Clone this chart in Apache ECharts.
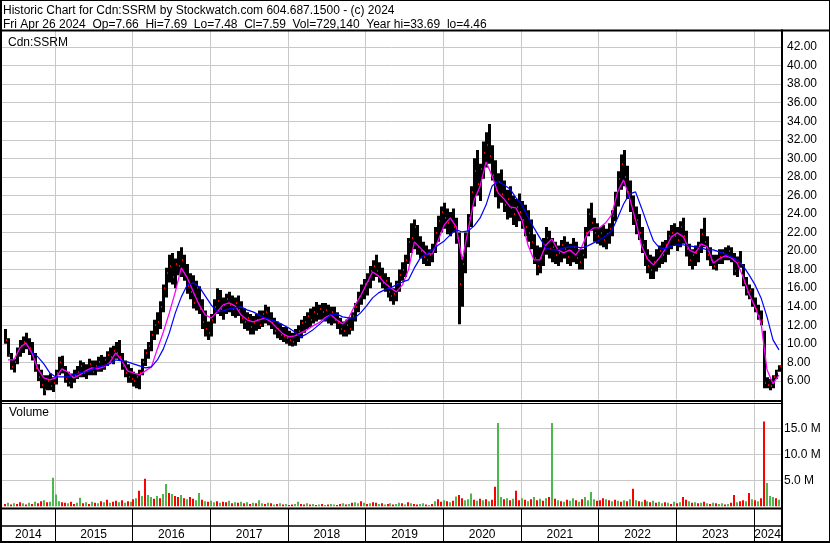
<!DOCTYPE html>
<html><head><meta charset="utf-8">
<script src="https://cdn.jsdelivr.net/npm/echarts@6/dist/echarts.min.js"></script>
<style>html,body{margin:0;padding:0;background:#fff}#c{width:830px;height:543px}</style>
</head><body><div id="c"></div>
<script>
// ---- data ----
const years = [2014,2015,2016,2017,2018,2019,2020,2021,2022,2023,2024];
const priceTicks = [6,8,10,12,14,16,18,20,22,24,26,28,30,32,34,36,38,40,42];
const volTicks = [5,10,15];
const lastDate = 2024.32;      // Fri Apr 26 2024 as decimal year
const barsPerYear = 26;        // two-week bars
const xMin = 2014.32, xMax = 2024.346;

const high = [
11.6,10.6,9.0,8.4,9.6,10.4,10.8,11.2,10.6,10.2,
9.0,7.8,7.2,6.6,6.6,6.8,6.4,7.2,8.6,8.7,
7.6,7.0,6.8,7.2,7.6,8.2,8.0,7.8,8.4,8.2,
8.2,8.6,8.8,8.6,9.2,9.6,9.8,10.2,10.4,9.0,
8.2,7.8,7.4,7.0,6.8,7.2,8.4,9.4,10.2,11.4,
12.6,13.4,14.6,16.4,18.2,19.6,19.8,19.2,20.0,20.4,
19.6,18.6,17.6,17.4,16.8,16.2,14.8,13.6,12.4,13.2,
14.8,16.0,15.8,15.0,15.4,15.6,15.2,15.0,15.2,14.6,
13.8,13.4,13.2,13.0,13.2,13.6,13.6,14.2,14.0,13.4,
12.8,12.4,12.2,11.8,11.8,11.4,11.2,11.6,12.0,12.6,
13.0,13.4,13.8,14.0,14.5,14.2,14.4,14.4,14.2,14.0,
14.0,13.4,12.8,12.4,12.6,12.8,13.4,14.4,15.6,16.4,
17.0,17.6,18.4,19.0,19.6,18.8,18.2,17.6,17.2,16.6,
16.0,16.8,18.0,18.8,19.6,21.4,23.0,23.4,22.8,21.6,
21.0,20.6,20.2,20.8,22.6,23.8,24.8,25.2,24.6,24.2,
24.6,23.6,22.0,19.4,22.0,24.0,27.0,30.0,30.9,29.4,
31.8,32.8,33.69,31.4,29.8,28.4,28.8,27.6,26.6,27.0,
26.0,25.6,26.2,25.4,25.0,24.4,23.4,21.8,20.6,20.4,
21.4,22.6,22.2,21.4,21.0,20.6,21.2,21.6,21.0,20.8,
21.4,21.0,20.2,20.2,22.6,24.6,25.2,23.6,23.0,22.6,
22.8,22.4,23.0,24.4,26.4,28.6,30.4,30.9,29.2,27.6,
26.0,24.8,24.0,22.6,21.2,20.2,19.6,19.4,20.2,20.6,
21.0,21.2,22.2,22.8,23.0,22.6,23.2,23.6,22.2,20.8,
20.2,20.6,21.0,22.4,23.6,21.6,20.4,19.6,19.6,20.2,
20.2,20.4,20.6,20.4,19.8,19.4,20.0,18.6,17.2,16.4,
16.0,15.0,14.2,13.6,11.4,6.4,6.2,6.6,7.2,7.69];

const low = [
10.0,8.6,7.2,6.9,7.8,8.6,9.0,9.4,8.8,8.2,
7.0,6.0,5.2,4.46,5.0,5.0,4.8,5.6,6.6,6.8,
5.8,5.4,5.2,5.8,6.2,6.4,6.4,6.2,6.6,6.6,
6.6,7.0,7.0,7.2,7.6,8.0,7.8,8.4,8.2,7.2,
6.4,5.8,5.8,5.4,5.2,5.1,6.6,7.6,8.4,9.2,
10.4,11.0,11.6,13.4,15.0,16.6,16.4,16.0,17.4,17.2,
16.8,15.4,14.8,13.8,13.6,13.2,11.6,10.8,10.4,10.8,
12.2,13.2,13.0,12.6,13.2,13.4,13.0,12.8,13.0,12.2,
11.6,11.4,11.0,11.0,11.4,11.6,11.8,12.2,12.0,11.6,
11.0,10.6,10.4,10.2,10.0,9.8,9.7,9.8,10.2,10.6,
11.2,11.6,11.8,12.2,12.4,12.6,12.6,12.4,12.2,12.0,
12.2,11.6,11.0,10.8,10.8,11.0,11.4,12.4,13.4,14.2,
14.8,15.2,16.0,16.8,17.2,16.6,16.0,15.6,15.0,14.6,
14.2,14.6,15.6,16.8,17.2,18.6,19.8,20.2,19.6,19.2,
18.6,18.4,18.4,18.8,19.8,21.0,22.0,22.4,21.8,21.6,
22.0,20.8,12.1,14.0,17.6,20.4,22.6,24.8,26.0,25.4,
27.8,29.0,29.4,27.6,25.8,24.6,25.2,24.2,23.4,23.6,
22.8,22.6,23.2,22.4,21.6,21.0,20.2,18.6,17.4,17.6,
18.4,19.6,19.2,18.8,18.6,18.4,18.8,19.2,18.6,18.4,
18.8,18.6,18.0,18.0,19.2,21.6,22.2,21.0,20.8,20.6,
20.4,20.2,20.8,21.6,23.2,24.8,26.6,27.0,25.6,24.2,
22.8,21.8,21.2,19.8,18.4,17.6,17.0,17.0,17.8,18.2,
18.6,18.8,19.6,20.2,20.6,20.0,20.4,20.8,19.4,18.4,
18.0,18.4,18.8,19.8,20.4,19.0,18.4,18.0,17.9,18.6,
18.6,19.0,19.0,18.8,17.4,17.2,18.2,16.2,15.2,14.8,
14.0,13.4,12.6,12.0,5.2,5.2,5.0,5.2,6.2,7.0];

const close = [
10.4,8.8,7.5,8.0,9.2,9.8,10.2,9.8,9.6,8.6,
7.4,6.4,5.6,5.0,6.0,5.4,5.8,6.8,8.0,7.2,
6.2,5.8,6.4,6.6,7.0,7.6,6.8,7.2,7.8,7.0,
7.6,8.0,7.6,8.2,8.8,8.6,9.2,9.0,8.6,7.6,
6.8,6.4,6.2,6.0,6.4,6.8,8.0,9.0,9.8,11.0,
12.0,12.4,14.0,16.0,17.6,18.4,17.2,18.6,18.4,19.0,
17.4,16.2,15.6,14.4,16.0,13.8,12.4,11.6,11.2,12.6,
14.0,14.6,13.8,14.2,14.8,14.2,13.8,14.4,13.6,12.8,
12.4,12.8,11.8,12.2,12.6,12.0,13.2,13.4,12.6,12.2,
11.4,11.6,11.0,10.8,10.6,10.4,10.2,11.0,11.4,12.2,
12.4,13.0,12.6,13.4,13.2,13.8,13.4,13.6,13.0,13.4,
12.6,12.2,11.6,11.4,12.0,11.6,13.0,14.0,15.0,15.6,
16.4,16.8,17.8,18.4,17.8,17.2,16.6,16.8,15.6,15.2,
15.4,16.4,17.4,18.0,19.0,21.0,21.4,22.6,20.4,20.0,
19.4,19.0,19.6,20.2,22.0,23.2,24.2,23.6,23.0,23.4,
22.6,21.4,16.4,18.6,21.4,23.6,26.4,28.6,27.2,28.8,
30.6,31.4,30.2,28.2,26.6,27.4,26.2,25.0,25.6,24.6,
24.0,24.8,24.2,23.4,22.6,22.0,21.0,19.2,18.4,19.2,
20.6,21.4,20.2,20.4,19.6,19.8,20.6,20.2,19.4,20.0,
20.4,19.2,18.8,19.6,22.0,24.0,23.0,22.0,21.6,22.0,
21.2,21.8,22.4,23.8,25.8,27.8,29.4,28.0,26.4,25.0,
23.6,23.4,22.0,20.6,19.2,18.4,18.0,18.8,19.0,20.0,
19.6,20.6,21.6,22.0,21.6,21.2,22.6,21.6,20.2,19.0,
19.6,19.8,20.6,21.8,21.0,19.6,19.0,18.4,19.0,19.4,
19.8,19.6,20.0,19.2,17.8,18.8,18.6,16.6,15.6,15.8,
14.4,13.8,13.0,12.6,5.8,5.6,5.4,6.4,7.0,7.59];

// volume in millions
const volume = [
0.5,0.7,0.4,0.6,0.5,0.8,0.6,0.4,0.7,0.5,
0.9,0.6,1.0,1.2,0.8,0.9,5.5,2.3,1.0,0.8,
0.7,0.6,0.9,0.5,0.7,1.7,0.6,0.8,0.5,0.9,
0.7,0.6,1.0,0.8,1.3,0.7,0.9,1.1,0.8,1.2,
0.7,1.0,0.9,1.4,1.6,3.0,2.0,5.3,2.2,1.8,
1.5,2.0,1.6,2.4,4.3,2.6,2.4,2.0,1.8,2.2,
1.6,1.4,1.8,1.5,1.2,2.6,1.3,1.0,0.9,1.1,
0.8,1.0,0.7,0.9,0.8,1.1,0.6,0.8,0.7,0.9,
0.6,0.8,0.5,0.7,0.6,1.2,0.6,0.5,0.7,0.6,
0.4,0.5,0.6,0.4,0.5,0.3,0.4,0.5,0.9,0.5,
0.4,0.6,0.4,0.5,0.3,0.4,0.5,0.3,0.4,0.5,
0.4,0.3,0.5,0.6,0.4,0.5,0.7,0.8,0.6,1.0,
0.7,0.5,0.6,0.8,0.7,0.5,0.6,0.4,0.5,0.6,
0.4,0.5,0.7,0.6,0.4,0.8,0.6,0.5,0.4,0.5,
0.6,0.4,0.3,0.5,1.0,1.4,0.9,1.2,1.0,0.8,
1.1,1.9,2.2,1.6,1.2,1.4,2.5,1.3,1.1,1.5,
1.2,1.4,1.0,1.3,3.8,16.0,1.8,1.4,1.6,1.2,
1.5,3.0,1.2,1.6,1.3,1.0,1.4,1.8,1.2,1.5,
1.1,1.6,1.8,16.0,1.5,1.2,1.0,0.9,1.3,1.1,
1.6,1.2,0.9,1.4,1.8,1.2,2.8,1.4,1.1,1.2,
1.6,1.4,1.2,1.0,1.3,1.1,0.9,1.2,1.0,1.4,
3.4,1.2,1.0,0.9,1.3,1.0,0.8,1.1,0.7,0.9,
0.6,0.8,0.7,0.5,0.9,0.6,0.8,1.8,1.3,1.0,
0.7,0.8,0.6,0.7,0.9,0.6,0.5,0.7,0.6,0.5,
0.6,0.4,0.5,0.7,2.2,0.8,1.0,1.2,1.0,2.6,
1.4,1.2,1.0,1.6,16.3,4.5,2.0,1.8,1.6,1.3];

// g = up (green), r = down (red)
const volDir =
"rgrgrrgrgr"+"grrgrggggr"+"rgrrggrgrg"+"rgrgrgrrgr"+"grgrgrgrgg"+
"rgrggrgrrg"+"rgrrggrgrg"+"grgrrgrgrg"+"rgrgrggrgr"+"grgrgrrggr"+
"rgrgrgrgrg"+"grrgrgrggr"+"grgrrgrgrg"+"rggrgrgrrg"+"grgrgrrgrg"+
"rgrrgggrgr"+"grgrrggrgr"+"grrgrgrgrg"+"rgrgrgrgrg"+"grgrggggrr"+
"rgrgrgrgrg"+"rgrgrgrgrg"+"grgrgrgrrg"+"rgrgrgrgrg"+"grgrrgrrgr"+
"grgrrgggrg";

// moving averages, one point every 4 weeks (magenta = short, blue = long)
const maShort = [
8.26,8.26,9.56,10.10,9.02,7.29,6.32,6.11,6.32,7.29,
6.97,6.32,6.65,7.08,7.40,7.29,7.51,7.94,9.02,8.26,
7.08,6.86,6.65,7.08,7.51,9.45,11.28,13.33,15.60,18.18,
17.11,15.60,14.19,13.12,12.79,13.44,14.19,14.41,14.09,13.12,
12.58,12.36,12.58,12.79,12.36,11.71,11.07,10.75,10.85,11.18,
11.50,11.93,12.25,12.79,13.12,12.58,12.15,12.79,14.09,15.16,
16.46,17.75,17.32,16.57,16.03,15.60,16.35,17.97,20.99,20.34,
19.69,19.69,21.20,22.82,23.57,22.60,19.05,22.28,25.51,27.02,
29.61,28.10,26.27,25.62,24.76,24.65,23.36,20.66,19.05,19.05,
20.66,21.31,20.12,19.80,20.12,19.58,20.45,21.96,22.50,22.50,
23.04,23.90,26.38,27.67,25.73,23.36,20.56,19.15,18.51,19.26,
20.23,21.53,21.96,21.53,20.12,19.80,20.77,20.45,18.72,19.15,
19.48,19.26,18.72,17.21,15.38,13.98,12.25,7.19,5.68,6.65];

const maLong = [
null,null,null,null,9.13,8.59,7.83,6.86,6.43,6.43,
6.43,6.65,6.86,6.97,7.19,7.51,7.62,7.83,8.26,8.16,
8.05,7.83,7.62,7.40,7.51,8.26,9.45,11.18,13.33,15.06,
16.35,16.57,16.13,15.16,14.19,13.44,13.55,13.76,13.87,13.98,
13.66,13.44,13.12,12.79,12.58,12.36,12.04,11.71,11.28,10.74,
11.07,11.50,12.04,12.58,13.12,13.22,12.90,12.79,12.79,13.33,
14.09,14.95,15.49,15.81,16.03,16.35,16.67,16.89,18.18,19.26,
19.69,20.12,20.66,21.09,21.74,22.28,22.06,22.17,22.71,23.57,
24.98,27.02,27.56,27.13,26.70,25.73,24.98,23.68,22.50,21.42,
20.34,20.12,20.12,20.34,20.45,20.45,20.34,20.56,20.88,21.20,
21.63,22.17,23.57,25.08,26.16,26.38,24.65,22.82,21.09,20.34,
20.23,20.56,20.66,20.66,20.56,20.45,20.34,20.12,20.12,19.91,
19.69,19.37,19.05,18.40,17.43,16.35,14.95,12.90,10.42,9.34];

// ---- build ----
const FONT = 'Liberation Sans, Arial, sans-serif';
const n = close.length;
const barTime = i => lastDate - (n - 1 - i) / barsPerYear;
const ohlc = close.map((c, i) => [barTime(i), high[i], low[i], c]);
const vol = volume.map((v, i) => [barTime(i), v, volDir[i] === 'g' ? 1 : 0]);
const maTime = j => barTime(2 * j + 1);
const shortData = maShort.map((v, j) => [maTime(j), v]);
const longData = maLong.map((v, j) => [maTime(j), v]).filter(d => d[1] != null);
const yearMarks = years.slice(1);
const yearMids = years.map(y => (Math.max(y, xMin) + Math.min(y + 1, xMax)) / 2);

const grid = '#c8c8c8';
const chart = echarts.init(document.getElementById('c'), null, {renderer: 'canvas'});
const baseX = (gi) => ({
  type: 'value', gridIndex: gi, min: xMin, max: xMax,
  axisLine: {show: false},
  axisTick: {show: false, customValues: yearMarks},
  axisLabel: {show: false},
  splitLine: {show: true, lineStyle: {color: grid, width: 1}}
});
const txt = {fontSize: 12, lineHeight: 14, fontWeight: 'normal', color: '#000', fontFamily: FONT};
chart.setOption({
  animation: false,
  backgroundColor: '#fff',
  textStyle: {fontFamily: FONT},
  title: [
    {text: 'Historic Chart for Cdn:SSRM by Stockwatch.com 604.687.1500 - (c) 2024\nFri Apr 26 2024  Op=7.66  Hi=7.69  Lo=7.48  Cl=7.59  Vol=729,140  Year hi=33.69  lo=4.46',
     left: 3, top: 4, padding: 0, z: 10, textStyle: txt},
    {text: 'Cdn:SSRM', left: 8, top: 35.5, padding: 0, z: 10, textStyle: txt},
    {text: 'Volume', left: 9, top: 406, padding: 0, z: 10, textStyle: txt}
  ],
  grid: [
    {left: 2, width: 779, top: 28.45, height: 371, outerBoundsMode: 'none', containLabel: false},
    {left: 2, width: 779, top: 402.2, height: 104.3, outerBoundsMode: 'none', containLabel: false},
    {left: 2, width: 779, top: 508, height: 18, outerBoundsMode: 'none', containLabel: false}
  ],
  xAxis: [
    baseX(0), baseX(1),
    {type: 'value', gridIndex: 2, min: xMin, max: xMax,
     axisLine: {show: true, lineStyle: {color: '#000', width: 1.5}},
     axisTick: {show: true, customValues: yearMarks, length: 15, lineStyle: {color: '#000', width: 1}},
     axisLabel: {show: true, customValues: yearMids, formatter: v => String(Math.floor(v + 1e-9)),
                 margin: 3, fontSize: 12, color: '#000', fontFamily: FONT},
     splitLine: {show: true, lineStyle: {color: '#000', width: 1}}}
  ],
  yAxis: [
    {type: 'value', gridIndex: 0, position: 'right', min: 4, max: 44, interval: 2,
     axisLine: {show: false},
     axisTick: {show: false, customValues: priceTicks},
     axisLabel: {customValues: priceTicks, formatter: v => v.toFixed(2), margin: 6,
                 fontSize: 12, color: '#000', fontFamily: FONT},
     splitLine: {show: true, lineStyle: {color: grid, width: 1}}},
    {type: 'value', gridIndex: 1, position: 'right', min: 0, max: 20, interval: 5,
     axisLine: {show: false},
     axisTick: {show: false, customValues: volTicks},
     axisLabel: {customValues: volTicks, formatter: v => v.toFixed(1) + ' M', margin: 3,
                 fontSize: 12, color: '#000', fontFamily: FONT},
     splitLine: {show: true, lineStyle: {color: grid, width: 1}}},
    {type: 'value', gridIndex: 2, min: 0, max: 1, show: false}
  ],
  series: [
    // high-low bars
    {type: 'custom', xAxisIndex: 0, yAxisIndex: 0, data: ohlc, z: 3, clip: true,
     encode: {x: 0, y: [1, 2]},
     renderItem: (params, api) => {
       const t = api.value(0);
       const ph = api.coord([t, api.value(1)]);
       const pl = api.coord([t, api.value(2)]);
       const x = Math.round(ph[0]);
       return {type: 'rect', shape: {x: x - 1, y: ph[1], width: 3, height: Math.max(1, pl[1] - ph[1])},
               style: {fill: '#000'}};
     }},
    // close ticks
    {type: 'custom', xAxisIndex: 0, yAxisIndex: 0, data: ohlc, z: 4, clip: true,
     encode: {x: 0, y: 3},
     renderItem: (params, api) => {
       const t = api.value(0);
       const pc = api.coord([t, api.value(3)]);
       const x = Math.round(pc[0]);
       return {type: 'rect', shape: {x: x + 1, y: Math.round(pc[1]) - 1, width: 1, height: 2},
               style: {fill: '#ff0000'}};
     }},
    {type: 'line', xAxisIndex: 0, yAxisIndex: 0, data: shortData, showSymbol: false, symbol: 'none', z: 5,
     lineStyle: {color: '#ff00ff', width: 1.3}, itemStyle: {color: '#ff00ff'}},
    {type: 'line', xAxisIndex: 0, yAxisIndex: 0, data: longData, showSymbol: false, symbol: 'none', z: 6,
     lineStyle: {color: '#0000ff', width: 1.2}, itemStyle: {color: '#0000ff'}},
    {type: 'custom', xAxisIndex: 1, yAxisIndex: 1, data: vol, z: 3, clip: true,
     encode: {x: 0, y: 1},
     renderItem: (params, api) => {
       const t = api.value(0);
       const p = api.coord([t, api.value(1)]);
       const b = api.coord([t, 0]);
       const x = Math.round(p[0]);
       return {type: 'rect', shape: {x: x - 1, y: p[1], width: 2, height: b[1] - p[1]},
               style: {fill: api.value(2) ? '#4cb84c' : '#ff0000'}};
     }}
  ],
  graphic: [
    {type: 'rect', shape: {x: 0, y: 0, width: 830, height: 29.5}, style: {fill: '#fff'}, z: 5, silent: true},
    {type: 'rect', shape: {x: 0, y: 29.5, width: 830, height: 2}, style: {fill: '#000'}, z: 6, silent: true},
    {type: 'rect', shape: {x: 0, y: 0, width: 830, height: 1}, style: {fill: '#000'}, z: 6, silent: true},
    {type: 'rect', shape: {x: 0, y: 0, width: 2, height: 543}, style: {fill: '#000'}, z: 6, silent: true},
    {type: 'rect', shape: {x: 781, y: 29.5, width: 2, height: 513.5}, style: {fill: '#000'}, z: 6, silent: true},
    {type: 'rect', shape: {x: 829, y: 0, width: 1, height: 543}, style: {fill: '#000'}, z: 6, silent: true},
    {type: 'rect', shape: {x: 0, y: 400, width: 783, height: 2}, style: {fill: '#000'}, z: 6, silent: true},
    {type: 'rect', shape: {x: 0, y: 403, width: 783, height: 1}, style: {fill: '#000'}, z: 6, silent: true},
    {type: 'rect', shape: {x: 0, y: 507.5, width: 783, height: 2}, style: {fill: '#000'}, z: 6, silent: true},
    {type: 'rect', shape: {x: 0, y: 541, width: 830, height: 2}, style: {fill: '#000'}, z: 6, silent: true}
  ]
});
</script>
</body></html>
